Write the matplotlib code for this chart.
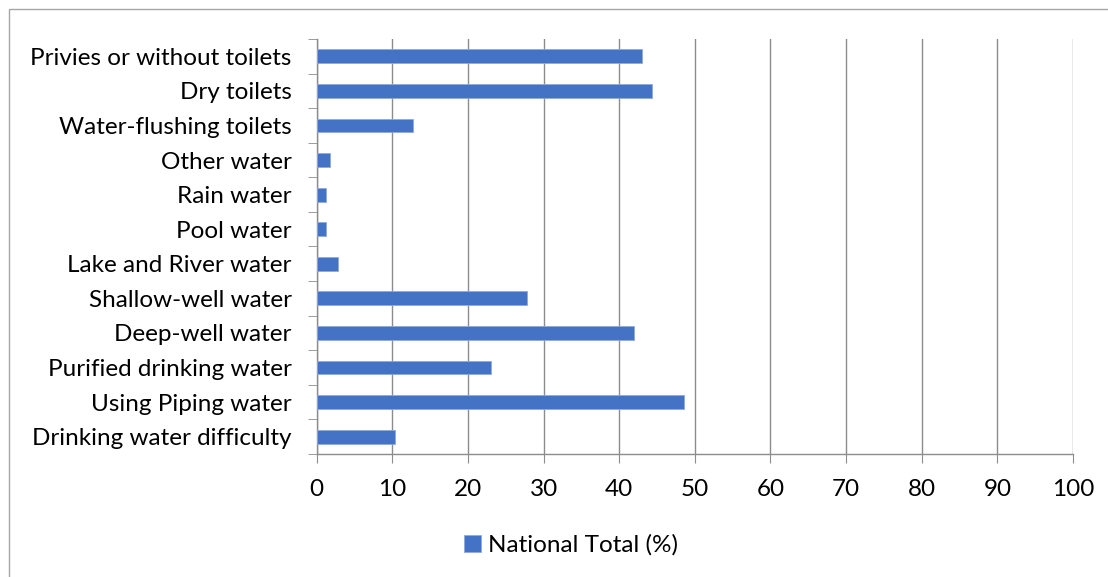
import numpy as np
import matplotlib
matplotlib.use("Agg")
import matplotlib.pyplot as plt
from matplotlib.patches import Rectangle

# categories listed bottom to top
categories = [
    "Drinking water difficulty",
    "Using Piping water",
    "Purified drinking water",
    "Deep-well water",
    "Shallow-well water",
    "Lake and River water",
    "Pool water",
    "Rain water",
    "Other water",
    "Water-flushing toilets",
    "Dry toilets",
    "Privies or without toilets",
]
national_total = [10.3, 48.6, 23.1, 41.9, 27.8, 2.8, 1.3, 1.3, 1.7, 12.8, 44.3, 43.0]
x_ticks = [0, 10, 20, 30, 40, 50, 60, 70, 80, 90, 100]
series_name = "National Total (%)"

plt.rcParams['font.family'] = ['Lato', 'DejaVu Sans']
bar_color = '#4472C4'
grid_color = '#8c8c8c'
fs = 17.5

fig = plt.figure(figsize=(11.08, 5.77), dpi=100)
ax = fig.add_axes([0.2858, 0.2132, 0.6826, 0.7192])

y = np.arange(len(categories))
ax.barh(y, national_total, height=0.4, color=bar_color, edgecolor='#8faadc',
        linewidth=0.6, label=series_name, zorder=3)

ax.set_xlim(0, 100)
ax.set_ylim(-0.5, len(categories) - 0.5)
ax.set_xticks(x_ticks)
ax.set_xticklabels([str(t) for t in x_ticks], fontsize=fs)
ax.set_yticks(y)
ax.set_yticklabels(categories, fontsize=fs)
ax.set_yticks(np.arange(-0.5, len(categories)), minor=True)

ax.tick_params(axis='y', which='major', length=0, pad=18)
ax.tick_params(axis='y', which='minor', length=6.5, color=grid_color, direction='out')
ax.tick_params(axis='x', which='major', length=6.5, color=grid_color, pad=11.5)

ax.xaxis.grid(True, color=grid_color, linewidth=1.0, zorder=0)
for side in ['top', 'right']:
    ax.spines[side].set_visible(False)
for side in ['left', 'bottom']:
    ax.spines[side].set_color(grid_color)
    ax.spines[side].set_linewidth(1.0)

# outer chart frame
fig.patches.append(Rectangle((8.5 / 1108, -0.1), 1.2, 1 - 9 / 577 + 0.1,
                             transform=fig.transFigure, fill=False,
                             edgecolor='#a6a6a6', linewidth=1.0))

handles, labels = ax.get_legend_handles_labels()
fig.legend(handles, labels, loc='center', bbox_to_anchor=(571 / 1108, 1 - 545 / 577),
           frameon=False, fontsize=fs, handlelength=0.7, handleheight=0.7,
           handletextpad=0.3)

fig.savefig("out.png", dpi=100)
